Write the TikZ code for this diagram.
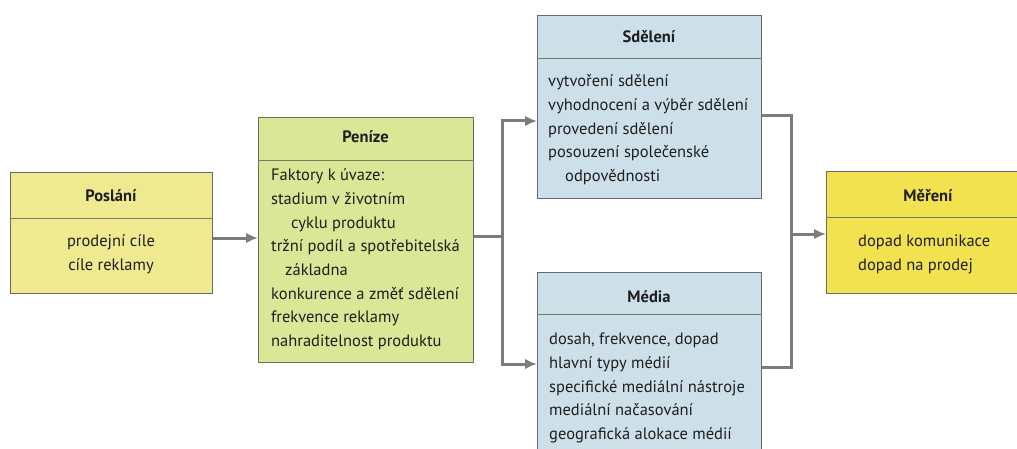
\documentclass[tikz,border=0pt]{standalone}
\usepackage{fontspec}
\setmainfont{PT Sans}
\usetikzlibrary{arrows.meta}
\definecolor{cposlani}{HTML}{EFEA90}
\definecolor{cpenize}{HTML}{DAE796}
\definecolor{cblue}{HTML}{CDE0EA}
\definecolor{cmereni}{HTML}{F2E250}
\definecolor{cedge}{HTML}{6A6A6A}
\definecolor{cdiv}{HTML}{7A7A60}
\definecolor{cline}{HTML}{7C7C7C}
\definecolor{ctext}{HTML}{1E1E1E}
\begin{document}
\begin{tikzpicture}[x=1pt,y=-1pt,
  box/.style={draw=cedge, line width=1pt, anchor=north west, inner sep=0pt},
  divline/.style={draw=cdiv, line width=0.8pt},
  ttl/.style={font=\fontsize{16.5}{23.7}\selectfont\bfseries, text=ctext, anchor=base, inner sep=0pt},
  body/.style={font=\fontsize{16.5}{23.7}\selectfont, text=ctext, align=left, anchor=north west, inner sep=0pt},
  conn/.style={draw=cline, line width=3pt},
  arr/.style={conn, -{Latex[length=12pt,width=10.5pt]}},
]
\useasboundingbox (0,0) rectangle (1017,449);
\clip (0,0) rectangle (1017,449);

% junction points
\coordinate (j1) at (502,236);
\coordinate (sdIn) at (537,121);
\coordinate (mdIn) at (537,364);
\coordinate (j2) at (791,234);

% boxes
\node[box, fill=cposlani, minimum width=202pt, minimum height=121pt] (poslani) at (10,172) {};
\node[box, fill=cpenize, minimum width=215pt, minimum height=245pt] (penize) at (258,117) {};
\node[box, fill=cblue, minimum width=224pt, minimum height=183pt] (sdeleni) at (537,15) {};
\node[box, fill=cblue, minimum width=224pt, minimum height=200pt] (media) at (537,272) {};
\node[box, fill=cmereni, minimum width=204pt, minimum height=122pt] (mereni) at (826,171) {};

% dividers
\draw[divline] (poslani.west |- 0,218) -- (poslani.east |- 0,218);
\draw[divline] (penize.west |- 0,160) -- (penize.east |- 0,160);
\draw[divline] (sdeleni.west |- 0,58) -- (sdeleni.east |- 0,58);
\draw[divline] (media.west |- 0,314) -- (media.east |- 0,314);
\draw[divline] (mereni.west |- 0,217) -- (mereni.east |- 0,217);

% titles
\node[ttl] (poslaniT) at (111,202) {Poslání};
\node[ttl] (penizeT) at (365.5,143) {Peníze};
\node[ttl] (sdeleniT) at (649,43) {Sdělení};
\node[ttl] (mediaT) at (649,302) {Média};
\node[ttl] (mereniT) at (928,202) {Měření};

% bodies
\node[body, align=center, anchor=north] (poslaniB) at (111,230) {\strut prodejní cíle\\cíle reklamy};
\node[body] (penizeB) at (271,164) {\strut Faktory k úvaze:\\stadium v životním\\\hspace*{20pt}cyklu produktu\\tržní podíl a spotřebitelská\\\hspace*{14pt}základna\\konkurence a změť sdělení\\frekvence reklamy\\nahraditelnost produktu};
\node[body] (sdeleniB) at (548,70) {\strut vytvoření sdělení\\vyhodnocení a výběr sdělení\\provedení sdělení\\posouzení společenské\\\hspace*{17pt}odpovědnosti};
\node[body] (mediaB) at (549,328) {\strut dosah, frekvence, dopad\\hlavní typy médií\\specifické mediální nástroje\\mediální načasování\\geografická alokace médií};
\node[body] (mereniB) at (858,230) {\strut dopad komunikace\\dopad na prodej};

% connectors
\draw[arr] (poslani.east |- 0,238) -- (penize.west |- 0,238);
\draw[conn] (penize.east |- j1) -- (j1);
\draw[arr] (j1) |- (sdIn);
\draw[arr] (j1) |- (mdIn);
\draw[conn] (sdeleni.east |- 0,116) -| (j2);
\draw[conn] (media.east |- 0,367) -| (j2);
\draw[arr] (j2) -- (mereni.west |- j2);
\end{tikzpicture}
\end{document}
